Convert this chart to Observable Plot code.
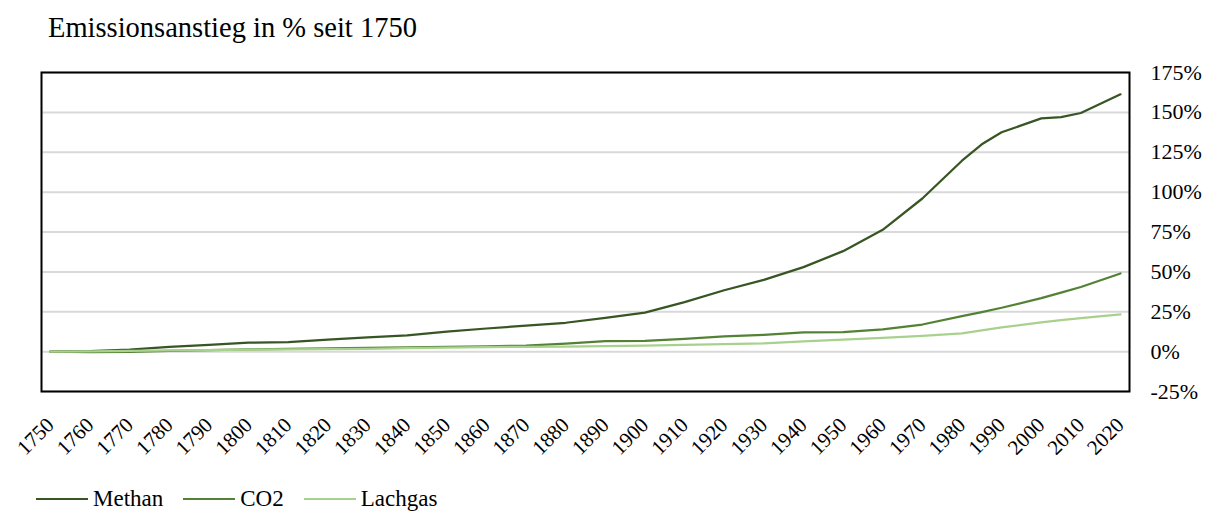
<!DOCTYPE html>
<html><head><meta charset="utf-8">
<script src="https://cdn.jsdelivr.net/npm/d3@7"></script>
<script src="https://cdn.jsdelivr.net/npm/@observablehq/plot@0.6"></script>
<style>
body{margin:0;background:#fff;font-family:"Liberation Serif","DejaVu Serif",serif;color:#000;}
#title{font-size:28.5px;line-height:28px;padding:14px 0 0 48px;height:36px;white-space:nowrap;}
#chart svg{display:block;}
#legend{display:flex;align-items:center;padding-left:36px;margin-top:17px;height:24px;font-size:23px;line-height:24px;}
.item{display:flex;align-items:center;margin-right:20px;}
.sw{width:52px;height:2px;margin-right:5px;}
</style></head><body>
<div id="title">Emissionsanstieg in % seit 1750</div>
<div id="chart"></div>
<div id="legend"></div>
<script>
const years   = [1750,1760,1770,1780,1790,1800,1810,1820,1830,1840,1850,1860,1870,1880,1890,1900,1910,1920,1930,1940,1950,1960,1970,1980,1985,1990,2000,2005,2010,2020];
const methan  = [0,0.3,1.2,3,4.3,5.6,6,7.5,9,10.2,12.6,14.5,16.3,18.1,21.2,24.4,31,38.5,45,53,63,76.4,96,119.7,130,137.5,146.2,147,149.6,161.3];
const co2     = [0,-0.3,-0.2,0.5,1,1.4,1.7,2,2.3,2.7,3,3.3,3.8,5,6.6,6.8,8,9.5,10.5,12,12.3,14,17,22.3,24.8,27.5,33.5,37,40.5,49];
const lachgas = [0,0.2,0.5,0.8,1,1.2,1.4,1.6,1.8,2.2,2.5,2.8,3,3.2,3.4,3.7,4.2,4.7,5.2,6.4,7.6,8.6,9.9,11.4,13.3,15.2,18.4,19.7,21,23.4];
const seriesNames  = ["Methan","CO2","Lachgas"];
const seriesColors = ["#375623","#548235","#a9d18e"];
const xTicks = [1750,1760,1770,1780,1790,1800,1810,1820,1830,1840,1850,1860,1870,1880,1890,1900,1910,1920,1930,1940,1950,1960,1970,1980,1990,2000,2010,2020];
const yTicks = [-25,0,25,50,75,100,125,150,175];

const seriesValues = [methan, co2, lachgas];
const rows = seriesNames.flatMap((s, k) => years.map((y, i) => ({year: y, value: seriesValues[k][i], series: s})));

const chart = Plot.plot({
  width: 1209, height: 420,
  marginLeft: 41, marginRight: 80, marginTop: 22, marginBottom: 79,
  x: {domain: [1750, 2020], insetLeft: 9, insetRight: 9},
  y: {domain: [-25, 175]},
  color: {domain: seriesNames, range: seriesColors},
  style: {fontFamily: '"Liberation Serif","DejaVu Serif",serif', fontSize: "22px", color: "#000", background: "#fff"},
  marks: [
    Plot.ruleY(yTicks, {stroke: "#d9d9d9", strokeWidth: 2}),
    Plot.lineY(rows, {x: "year", y: "value", z: "series", stroke: "series", strokeWidth: 2.25}),
    Plot.frame({stroke: "#000", strokeWidth: 2}),
    Plot.axisY({anchor: "right", ticks: yTicks, tickFormat: d => d + "%", tickSize: 0, tickPadding: 21, label: null, fontSize: 22, fontFamily: '"Liberation Serif","DejaVu Serif",serif'}),
    Plot.axisX({ticks: xTicks, tickFormat: d => String(d), tickRotate: -45, tickSize: 0, tickPadding: 30, label: null, fontSize: 21, fontFamily: '"Liberation Serif","DejaVu Serif",serif'})
  ]
});
document.getElementById("chart").appendChild(chart);

const legend = document.getElementById("legend");
seriesNames.forEach((s, k) => {
  const it = document.createElement("div");
  it.className = "item";
  const sw = document.createElement("div");
  sw.className = "sw";
  sw.style.background = seriesColors[k];
  const tx = document.createElement("span");
  tx.textContent = s;
  it.appendChild(sw); it.appendChild(tx);
  legend.appendChild(it);
});
</script>
</body></html>
